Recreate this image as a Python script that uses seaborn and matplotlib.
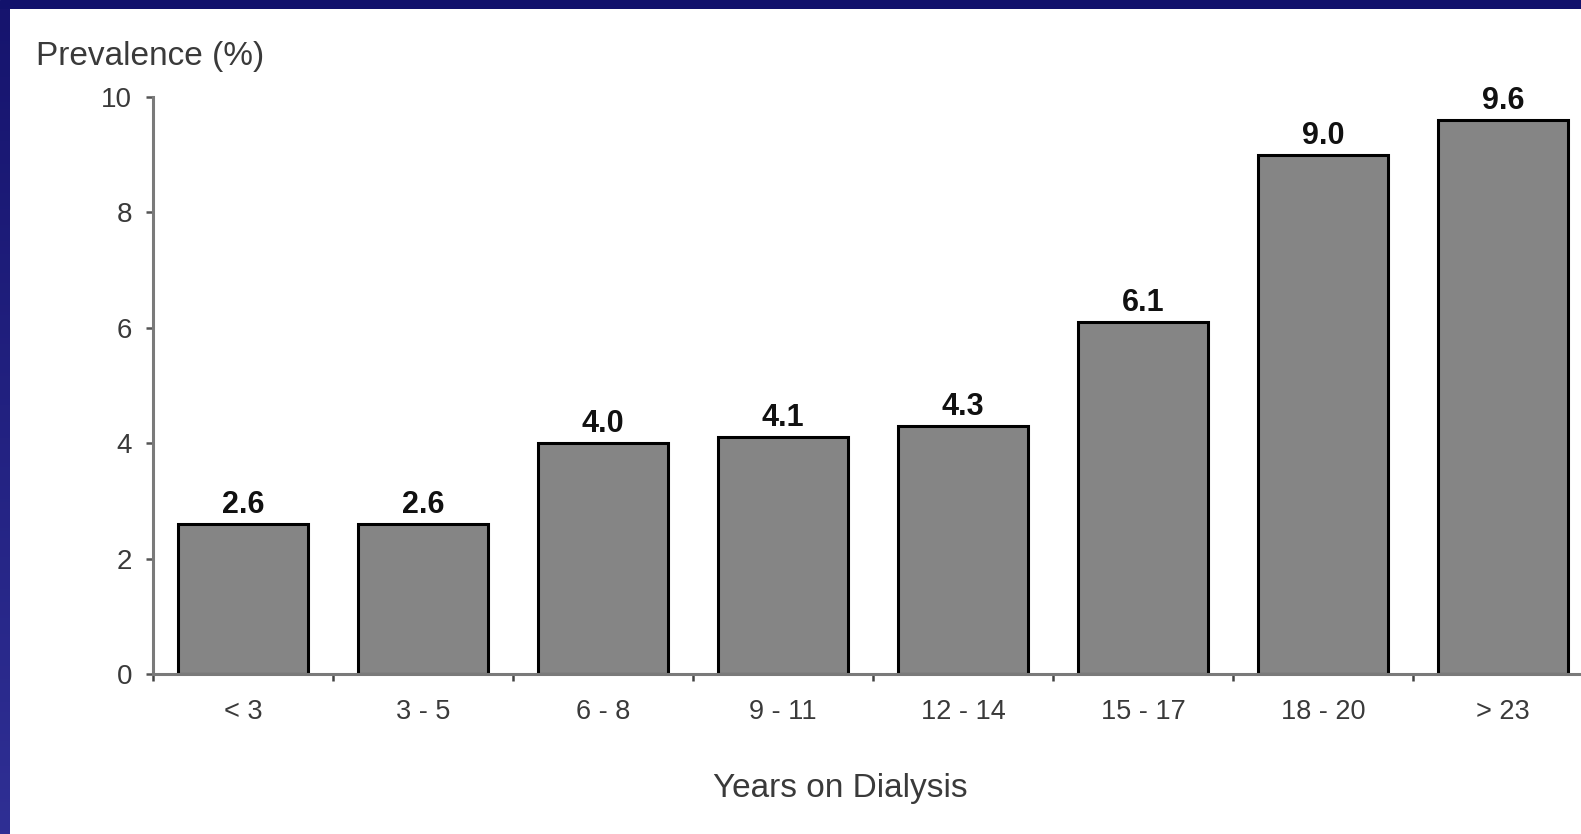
import numpy as np
import pandas as pd
import matplotlib
matplotlib.use("Agg")
import matplotlib.pyplot as plt
from matplotlib.colors import LinearSegmentedColormap
from matplotlib.ticker import FixedLocator
import seaborn as sns

# Prevalence by time on dialysis
categories = ["< 3", "3 - 5", "6 - 8", "9 - 11", "12 - 14", "15 - 17", "18 - 20", "> 23"]
prevalence = [2.6, 2.6, 4.0, 4.1, 4.3, 6.1, 9.0, 9.6]
y_ticks = [0, 2, 4, 6, 8, 10]

sns.set_theme(style="white")
plt.rcParams["font.family"] = ["Liberation Sans", "DejaVu Sans"]

W, H, DPI = 1581, 834, 100
fig = plt.figure(figsize=(W / DPI, H / DPI), dpi=DPI, facecolor="white")

# Slide frame: dark blue band along the top and left edges
top_px, left_px = 9, 10
band = fig.add_axes([0, 1 - top_px / H, 1, top_px / H])
band.set_axis_off()
band.add_patch(plt.Rectangle((0, 0), 1, 1, color="#12126c", transform=band.transAxes))
side = fig.add_axes([0, 0, left_px / W, 1 - top_px / H])
side.set_axis_off()
cmap = LinearSegmentedColormap.from_list("frame", ["#2f2f94", "#16146e"])
side.imshow(np.linspace(0, 1, 256).reshape(-1, 1), aspect="auto", cmap=cmap,
            origin="lower", extent=[0, 1, 0, 1])

# Plot area
x0, x1 = 153, 1593
y_top, y_bot = 97, 674
ax = fig.add_axes([x0 / W, (H - y_bot) / H, (x1 - x0) / W, (y_bot - y_top) / H])

df = pd.DataFrame({"years": categories, "prev": prevalence})
sns.barplot(data=df, x="years", y="prev", order=categories, color="#858585",
            saturation=1, width=0.72, edgecolor="black", linewidth=2.2, ax=ax)

ax.set_xlim(-0.5, len(categories) - 0.5)
ax.set_ylim(0, 10)
ax.set_yticks(y_ticks)
ax.set_xlabel("")
ax.set_ylabel("")

for s in ["top", "right"]:
    ax.spines[s].set_visible(False)
for s in ["left", "bottom"]:
    ax.spines[s].set_color("#7a7a7a")
    ax.spines[s].set_linewidth(2.2)

ax.tick_params(axis="y", which="major", direction="out", length=5, width=1.8,
               color="#555555", labelsize=20, labelcolor="#3a3a3a", pad=10, left=True)
ax.xaxis.set_minor_locator(FixedLocator(np.arange(-0.5, len(categories), 1.0)))
ax.tick_params(axis="x", which="major", length=0, labelsize=19.5, labelcolor="#3a3a3a", pad=18)
ax.tick_params(axis="x", which="minor", direction="out", length=5, width=1.8,
               color="#444444", bottom=True)

for container in ax.containers:
    ax.bar_label(container, fmt="%.1f", padding=3, fontsize=22, fontweight="bold",
                 color="#111111")

fig.text(36 / W, 1 - 57 / H, "Prevalence (%)", fontsize=24, color="#3a3a3a",
         ha="left", va="center")
fig.text(840 / W, 1 - 789 / H, "Years on Dialysis", fontsize=24, color="#3a3a3a",
         ha="center", va="center")

fig.savefig("out.png", dpi=DPI, facecolor="white")
